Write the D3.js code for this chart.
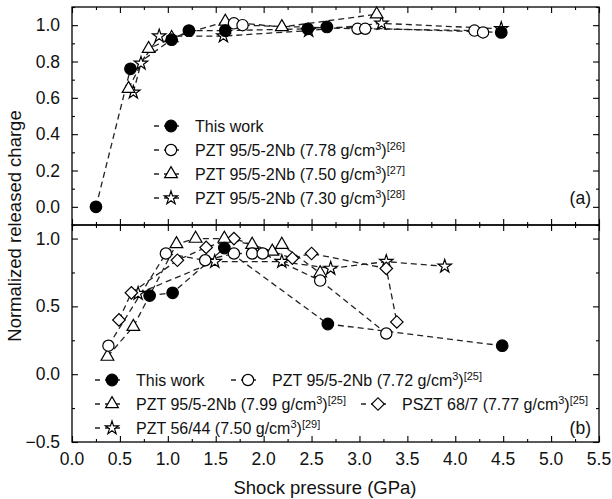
<!DOCTYPE html>
<html>
<head>
<meta charset="utf-8">
<script src="https://cdn.jsdelivr.net/npm/d3@7"></script>
<style>
body { margin: 0; background: #fff; }
text { font-family: Arial, "Liberation Sans", Helvetica, sans-serif; fill: #111; }
</style>
</head>
<body>
<div class="chart"></div>
<script>
// panel (a) : [shock pressure GPa, normalized released charge]
const thisWorkA = [[0.25,0.00],[0.61,0.76],[1.04,0.92],[1.22,0.97],[1.60,0.97],[2.46,0.98],[2.66,0.99],[4.48,0.96]];
const pzt778 = [[1.69,1.01],[1.78,1.00],[2.98,0.98],[3.06,0.98],[4.20,0.97],[4.29,0.96]];
const pzt750 = [[0.59,0.65],[0.80,0.87],[1.04,0.93],[1.60,1.02],[2.19,0.99],[3.18,1.06]];
const pzt730 = [[0.64,0.63],[0.72,0.79],[0.91,0.94],[1.58,0.94],[2.47,0.97],[3.23,1.01],[4.48,0.98]];

// panel (b)
const thisWorkB = [[0.81,0.58],[1.05,0.60],[1.59,0.93],[2.67,0.37],[4.49,0.21]];
const pzt772 = [[0.38,0.21],[0.98,0.89],[1.39,0.84],[1.69,0.89],[1.88,0.89],[1.99,0.89],[2.59,0.69],[3.28,0.30]];
const pzt799 = [[0.37,0.13],[0.64,0.35],[1.09,0.96],[1.29,1.00],[1.59,1.00],[1.88,0.955],[2.09,0.905],[2.19,0.955],[2.59,0.745]];
const pszt777 = [[0.49,0.40],[0.62,0.60],[1.10,0.84],[1.40,0.935],[1.69,1.00],[2.30,0.855],[2.50,0.89],[3.28,0.78],[3.39,0.385]];
const pzt5644 = [[0.69,0.595],[1.49,0.83],[2.19,0.83],[2.70,0.78],[3.28,0.83],[3.89,0.795]];

const xTicks = [0,0.5,1,1.5,2,2.5,3,3.5,4,4.5,5,5.5];
const yTicksA = [0,0.2,0.4,0.6,0.8,1.0];
const yTicksB = [-0.5,0,0.5,1.0];

const legendA = [
  {name:'This work', dens:null, ref:null, sym:'fcircle'},
  {name:'PZT 95/5-2Nb (7.78 g/cm', dens:'3', ref:'[26]', sym:'circle'},
  {name:'PZT 95/5-2Nb (7.50 g/cm', dens:'3', ref:'[27]', sym:'triangle'},
  {name:'PZT 95/5-2Nb (7.30 g/cm', dens:'3', ref:'[28]', sym:'star'}
];
const legendB = [
  {name:'This work', dens:null, ref:null, sym:'fcircle'},
  {name:'PZT 95/5-2Nb (7.72 g/cm', dens:'3', ref:'[25]', sym:'circle'},
  {name:'PZT 95/5-2Nb (7.99 g/cm', dens:'3', ref:'[25]', sym:'triangle'},
  {name:'PSZT 68/7 (7.77 g/cm', dens:'3', ref:'[25]', sym:'diamond'},
  {name:'PZT 56/44 (7.50 g/cm', dens:'3', ref:'[29]', sym:'star'}
];

const W = 612, H = 499;
const L = 72, R = 599, topA = 7, mid = 225, botB = 442;

const svg = d3.select('.chart').append('svg')
  .attr('width', W).attr('height', H);

const x = d3.scaleLinear().domain([0, 5.5]).range([L, R]);
const yA = d3.scaleLinear().domain([-0.1, 1.1]).range([mid, topA]);
const yB = d3.scaleLinear().domain([-0.5, 1.1]).range([botB, mid]);

const symPath = {
  fcircle: d3.symbol().type(d3.symbolCircle).size(105)(),
  circle: d3.symbol().type(d3.symbolCircle).size(100)(),
  triangle: d3.symbol().type(d3.symbolTriangle).size(70)(),
  diamond: d3.symbol().type(d3.symbolSquare).size(78)(),
  star: d3.symbol().type(d3.symbolStar).size(55)()
};

function drawMarkers(g, pts, sym, yS) {
  g.selectAll(null).data(pts).enter().append('path')
    .attr('d', symPath[sym])
    .attr('transform', d => 'translate(' + x(d[0]) + ',' + yS(d[1]) + ')' + (sym === 'diamond' ? ' rotate(45)' : ''))
    .attr('fill', sym === 'fcircle' ? '#000' : '#fff')
    .attr('stroke', '#000')
    .attr('stroke-width', 1.2);
}

function drawSeries(g, pts, sym, yS) {
  const line = d3.line().x(d => x(d[0])).y(d => yS(d[1]));
  g.append('path')
    .datum(pts)
    .attr('d', line)
    .attr('fill', 'none')
    .attr('stroke', '#222')
    .attr('stroke-width', 1.3)
    .attr('stroke-dasharray', '6,4');
}

function panel(yS, series, yTicks, minorY, fmt) {
  const g = svg.append('g');
  const y0 = yS.range()[0], y1 = yS.range()[1];

  // axes, ticks inward on all four sides
  g.append('g').attr('transform', 'translate(0,' + y0 + ')')
    .call(d3.axisBottom(x).tickValues(xTicks).tickSize(-6).tickFormat(''));
  g.append('g').attr('transform', 'translate(0,' + y0 + ')')
    .call(d3.axisBottom(x).tickValues(d3.range(0.25, 5.5, 0.5)).tickSize(-3).tickFormat(''));
  g.append('g').attr('transform', 'translate(0,' + y1 + ')')
    .call(d3.axisTop(x).tickValues(xTicks).tickSize(-6).tickFormat(''));
  g.append('g').attr('transform', 'translate(0,' + y1 + ')')
    .call(d3.axisTop(x).tickValues(d3.range(0.25, 5.5, 0.5)).tickSize(-3).tickFormat(''));
  const left = g.append('g').attr('transform', 'translate(' + L + ',0)')
    .call(d3.axisLeft(yS).tickValues(yTicks).tickSize(-6).tickPadding(12).tickFormat(fmt));
  g.append('g').attr('transform', 'translate(' + L + ',0)')
    .call(d3.axisLeft(yS).tickValues(minorY).tickSize(-3).tickFormat(''));
  g.append('g').attr('transform', 'translate(' + R + ',0)')
    .call(d3.axisRight(yS).tickValues(yTicks).tickSize(-6).tickFormat(''));
  g.append('g').attr('transform', 'translate(' + R + ',0)')
    .call(d3.axisRight(yS).tickValues(minorY).tickSize(-3).tickFormat(''));

  g.selectAll('.domain').remove();
  g.selectAll('.tick line').attr('stroke', '#000').attr('stroke-width', 1.1);
  left.selectAll('.tick text')
    .attr('font-size', 17.5).attr('fill', '#111')
    .style('font-family', 'Arial, "Liberation Sans", sans-serif');

  g.append('rect')
    .attr('x', L).attr('y', y1).attr('width', R - L).attr('height', y0 - y1)
    .attr('fill', 'none').attr('stroke', '#000').attr('stroke-width', 1.3);

  series.forEach(s => drawSeries(g, s.pts, s.sym, yS));
  series.forEach(s => drawMarkers(g, s.pts, s.sym, yS));
  return g;
}

const fmtA = d3.format('.1f');
const fmtB = d => d < 0 ? '\u2212' + d3.format('.1f')(-d) : d3.format('.1f')(d);

panel(yA, [
  {pts: pzt730, sym:'star'},
  {pts: pzt750, sym:'triangle'},
  {pts: pzt778, sym:'circle'},
  {pts: thisWorkA, sym:'fcircle'}
], yTicksA, d3.range(-0.1, 1.11, 0.2), fmtA);

panel(yB, [
  {pts: pzt5644, sym:'star'},
  {pts: pszt777, sym:'diamond'},
  {pts: pzt799, sym:'triangle'},
  {pts: pzt772, sym:'circle'},
  {pts: thisWorkB, sym:'fcircle'}
], yTicksB, [-0.25, 0.25, 0.75], fmtB);

// x tick labels
svg.append('g').selectAll('text').data(xTicks).enter().append('text')
  .attr('x', d => x(d)).attr('y', botB + 23)
  .attr('text-anchor', 'middle').attr('font-size', 17.5)
  .text(d => d3.format('.1f')(d));

// axis titles
svg.append('text')
  .attr('x', 325).attr('y', 494)
  .attr('text-anchor', 'middle').attr('font-size', 18.5)
  .text('Shock pressure (GPa)');
svg.append('text')
  .attr('transform', 'translate(21,' + 226 + ') rotate(-90)')
  .attr('text-anchor', 'middle').attr('font-size', 18.5)
  .text('Normalized released charge');

// legends
function legendItem(g, item, mx, my) {
  g.append('line')
    .attr('x1', mx - 17).attr('x2', mx + 12).attr('y1', my).attr('y2', my)
    .attr('stroke', '#222').attr('stroke-width', 1.3).attr('stroke-dasharray', '5,5');
  g.append('path')
    .attr('d', symPath[item.sym])
    .attr('transform', 'translate(' + mx + ',' + my + ')' + (item.sym === 'diamond' ? ' rotate(45)' : ''))
    .attr('fill', item.sym === 'fcircle' ? '#000' : '#fff')
    .attr('stroke', '#000').attr('stroke-width', 1.2);
  const t = g.append('text')
    .attr('x', mx + 24).attr('y', my + 6)
    .attr('font-size', 16);
  t.append('tspan').text(item.name);
  if (item.dens) {
    t.append('tspan').attr('font-size', 11).attr('dy', -6).text(item.dens);
    t.append('tspan').attr('font-size', 16).attr('dy', 6).text(')');
    t.append('tspan').attr('font-size', 11).attr('dy', -6).text(item.ref);
  }
}

const legA = svg.append('g');
const rowsA = [126, 150, 174, 198];
legendA.forEach((item, i) => legendItem(legA, item, 171, rowsA[i]));

const legB = svg.append('g');
legendItem(legB, legendB[0], 112, 380);
legendItem(legB, legendB[1], 248, 380);
legendItem(legB, legendB[2], 112, 404);
legendItem(legB, legendB[3], 378, 404);
legendItem(legB, legendB[4], 112, 428);

// panel labels
svg.append('text').attr('x', 591).attr('y', 204).attr('text-anchor', 'end').attr('font-size', 17.5).text('(a)');
svg.append('text').attr('x', 591).attr('y', 434).attr('text-anchor', 'end').attr('font-size', 17.5).text('(b)');
</script>
</body>
</html>
